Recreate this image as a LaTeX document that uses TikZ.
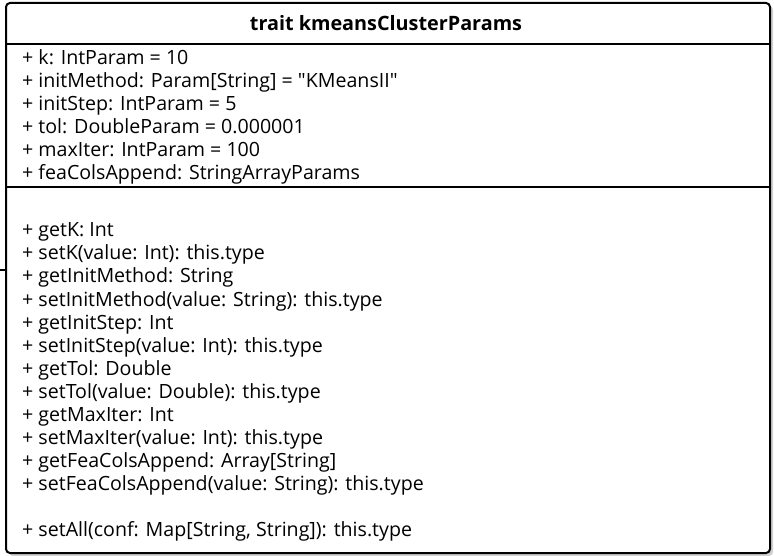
\documentclass[tikz,border=0pt]{standalone}
\usepackage{fontspec}
\setmainfont{Open Sans}
\begin{document}
\begin{tikzpicture}[x=1pt,y=-1pt,
  txt/.style={anchor=base west,inner sep=0pt,font=\fontsize{19.6}{22}\selectfont},
  ttl/.style={anchor=base,inner sep=0pt,font=\fontsize{19.8}{22}\selectfont\bfseries},
  frame/.style={draw=black,line width=2pt,rounded corners=4pt,fill=white},
  sep/.style={draw=black,line width=2pt}]
\useasboundingbox (0,0) rectangle (774,556);
\fill[black!18,rounded corners=4pt] (9,6) rectangle (773,556);
\node[frame,minimum width=764pt,minimum height=550pt,anchor=north west] (cls) at (5,2) {};
\coordinate (stub) at (0,270);
\draw[line width=1.2pt] (stub) -- (stub -| cls.west);
\draw[sep] (5,44) -- (769,44);
\draw[sep] (5,187) -- (769,187);
\node[ttl] (title) at (386,30.5) {trait kmeansClusterParams};
\node[txt] (a1) at (22,64.5) {+ k: IntParam = 10};
\node[txt] (a2) at (22,87.5) {+ initMethod: Param[String] = \textquotedbl KMeansII\textquotedbl};
\node[txt] (a3) at (22,110.5) {+ initStep: IntParam = 5};
\node[txt] (a4) at (22,133.5) {+ tol: DoubleParam = 0.000001};
\node[txt] (a5) at (22,156.5) {+ maxIter: IntParam = 100};
\node[txt] (a6) at (22,179.5) {+ feaColsAppend: StringArrayParams};
\node[txt] (m1) at (22,237) {+ getK: Int};
\node[txt] (m2) at (22,260) {+ setK(value: Int): this.type};
\node[txt] (m3) at (22,283) {+ getInitMethod: String};
\node[txt] (m4) at (22,306) {+ setInitMethod(value: String): this.type};
\node[txt] (m5) at (22,329) {+ getInitStep: Int};
\node[txt] (m6) at (22,352) {+ setInitStep(value: Int): this.type};
\node[txt] (m7) at (22,375) {+ getTol: Double};
\node[txt] (m8) at (22,398) {+ setTol(value: Double): this.type};
\node[txt] (m9) at (22,421) {+ getMaxIter: Int};
\node[txt] (m10) at (22,444) {+ setMaxIter(value: Int): this.type};
\node[txt] (m11) at (22,467) {+ getFeaColsAppend: Array[String]};
\node[txt] (m12) at (22,490) {+ setFeaColsAppend(value: String): this.type};
\node[txt] (m13) at (22,536) {+ setAll(conf: Map[String, String]): this.type};
\end{tikzpicture}
\end{document}
